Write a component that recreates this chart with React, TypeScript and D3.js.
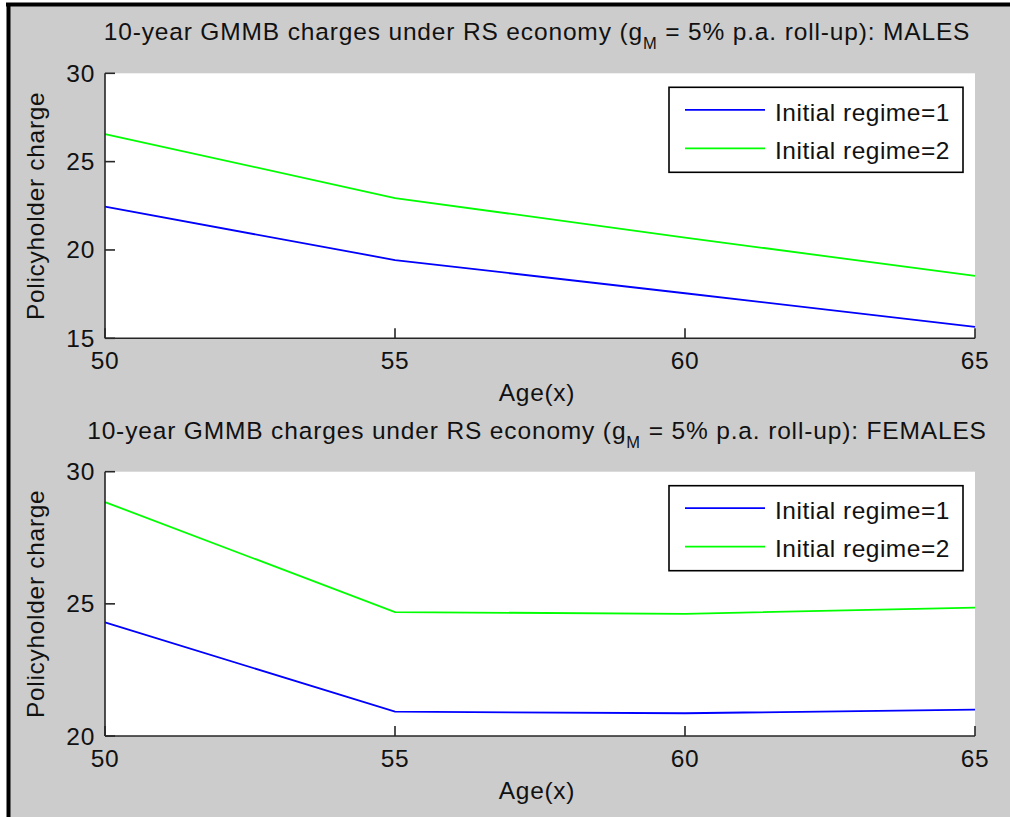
import React from "react";
import * as d3 from "d3";

// Ages (x) at which the 10-year GMMB charge was evaluated
const ages = [50, 55, 60, 65];

// Policyholder charge by initial regime, males
const malesRegime1 = [22.45, 19.43, 17.55, 15.65];
const malesRegime2 = [26.56, 22.94, 20.7, 18.53];

// Policyholder charge by initial regime, females
const femalesRegime1 = [24.3, 20.92, 20.86, 21.0];
const femalesRegime2 = [28.85, 24.69, 24.62, 24.86];

const xTicks = [50, 55, 60, 65];
const malesYTicks = [15, 20, 25, 30];
const femalesYTicks = [20, 25, 30];

const seriesNames = ["Initial regime=1", "Initial regime=2"];
const seriesColors = ["#0000ff", "#00ff00"];

const W = 1010;
const H = 817;
const FONT = "'Liberation Sans', Arial, Helvetica, sans-serif";
const FS = 24.5;
const LS = 0.7;
const TEXT = "#111";
const AXIS = "#262626";

type PanelProps = {
  top: number;
  bottom: number;
  yDomain: [number, number];
  yTicks: number[];
  series: number[][];
  sex: string;
  titleY: number;
};

function Panel({ top, bottom, yDomain, yTicks, series, sex, titleY }: PanelProps) {
  const left = 105;
  const right = 975;
  const x = d3.scaleLinear().domain([50, 65]).range([left, right]);
  const y = d3.scaleLinear().domain(yDomain).range([bottom, top]);
  const line = d3
    .line<number>()
    .x((_, i) => x(ages[i]))
    .y((d) => y(d));
  const tickLen = 10;
  const legTop = top + 14;
  const legLeft = 669;
  const legRight = 963;
  const legH = 85;
  const cx = (left + right) / 2;

  return (
    <g>
      {/* title with subscript */}
      <text
        x={cx - 3}
        y={titleY}
        textAnchor="middle"
        fontFamily={FONT}
        fontSize={FS}
        letterSpacing={0.85}
        fill={TEXT}
      >
        <tspan>10-year GMMB charges under RS economy (g</tspan>
        <tspan fontSize={16.5} dy={9}>M</tspan>
        <tspan dy={-9}>{` = 5% p.a. roll-up): ${sex}`}</tspan>
      </text>

      {/* plot area */}
      <rect x={left} y={top} width={right - left} height={bottom - top} fill="#ffffff" />

      {/* data lines */}
      {series.map((vals, i) => (
        <path
          key={i}
          d={line(vals) || ""}
          fill="none"
          stroke={seriesColors[i]}
          strokeWidth={1.8}
        />
      ))}

      {/* axes */}
      <line x1={left} y1={top} x2={left} y2={bottom} stroke={AXIS} strokeWidth={1.6} />
      <line x1={left} y1={bottom} x2={right} y2={bottom} stroke={AXIS} strokeWidth={1.6} />

      {xTicks.map((t) => (
        <g key={`x${t}`}>
          <line
            x1={x(t)}
            x2={x(t)}
            y1={bottom}
            y2={bottom - tickLen}
            stroke={AXIS}
            strokeWidth={1.6}
          />
          <text
            x={x(t)}
            y={bottom + 30.5}
            textAnchor="middle"
            fontFamily={FONT}
            fontSize={FS}
            letterSpacing={LS}
            fill={TEXT}
          >
            {t}
          </text>
        </g>
      ))}

      {yTicks.map((t) => (
        <g key={`y${t}`}>
          <line
            x1={left}
            x2={left + tickLen}
            y1={y(t)}
            y2={y(t)}
            stroke={AXIS}
            strokeWidth={1.6}
          />
          <text
            x={95}
            y={y(t) + 8.5}
            textAnchor="end"
            fontFamily={FONT}
            fontSize={FS}
            letterSpacing={LS}
            fill={TEXT}
          >
            {t}
          </text>
        </g>
      ))}

      {/* axis labels */}
      <text
        x={cx - 3}
        y={bottom + 63}
        textAnchor="middle"
        fontFamily={FONT}
        fontSize={FS}
        letterSpacing={LS}
        fill={TEXT}
      >
        Age(x)
      </text>
      <text
        transform={`translate(44,${(top + bottom) / 2}) rotate(-90)`}
        textAnchor="middle"
        fontFamily={FONT}
        fontSize={FS}
        letterSpacing={LS}
        fill={TEXT}
      >
        Policyholder charge
      </text>

      {/* legend */}
      <rect
        x={legLeft}
        y={legTop}
        width={legRight - legLeft}
        height={legH}
        fill="#ffffff"
        stroke="#000"
        strokeWidth={1.6}
      />
      {seriesNames.map((name, i) => (
        <g key={name}>
          <line
            x1={685}
            x2={765}
            y1={legTop + 22.5 + i * 38.5}
            y2={legTop + 22.5 + i * 38.5}
            stroke={seriesColors[i]}
            strokeWidth={1.8}
          />
          <text
            x={775}
            y={legTop + 33.5 + i * 38}
            fontFamily={FONT}
            fontSize={FS}
            letterSpacing={0.5}
            fill={TEXT}
          >
            {name}
          </text>
        </g>
      ))}
    </g>
  );
}

export default function App() {
  return (
    <svg
      width={W}
      height={H}
      style={{ position: "absolute", left: 0, top: 0, display: "block" }}
    >
      <rect x={0} y={0} width={W} height={H} fill="#ffffff" />
      <rect x={8} y={4} width={W - 8} height={H - 4} fill="#cccccc" />
      {/* window frame */}
      <line x1={6} y1={4.5} x2={W} y2={4.5} stroke="#000" strokeWidth={4} />
      <line x1={8.5} y1={3} x2={8.5} y2={H} stroke="#000" strokeWidth={4} />

      <Panel
        top={73.3}
        bottom={338.3}
        yDomain={[15, 30]}
        yTicks={malesYTicks}
        series={[malesRegime1, malesRegime2]}
        sex="MALES"
        titleY={40}
      />
      <Panel
        top={471.7}
        bottom={736}
        yDomain={[20, 30]}
        yTicks={femalesYTicks}
        series={[femalesRegime1, femalesRegime2]}
        sex="FEMALES"
        titleY={438.5}
      />
    </svg>
  );
}
